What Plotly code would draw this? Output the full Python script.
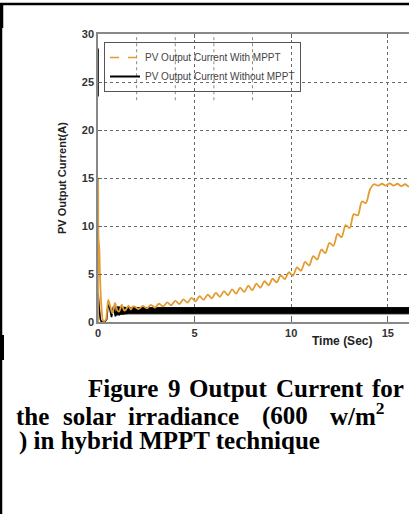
import plotly.graph_objects as go

# ---------------- data ----------------
# PV output current WITH MPPT (orange)
with_t = [0, 0.005, 0.02, 0.04, 0.07, 0.1, 0.15, 0.2, 0.25, 0.32, 0.4, 0.47, 0.53,
          0.65, 0.75, 0.88, 1.0, 1.1, 1.23, 1.35, 1.45, 1.58, 1.7, 1.8,
          1.90, 2.11, 2.32, 2.53, 2.74, 2.95, 3.16, 3.37, 3.58, 3.79, 4.00, 4.21,
          4.42, 4.63, 4.84, 5.05, 5.26, 5.47, 5.68, 5.89, 6.10, 6.31, 6.52, 6.73,
          6.94, 7.15, 7.36, 7.57, 7.78, 7.99, 8.20, 8.41, 8.62, 8.83, 9.04, 9.25,
          9.46, 9.67, 9.88, 10.09, 10.30, 10.51, 10.72, 10.93, 11.14, 11.35, 11.56,
          11.77, 11.98, 12.19, 12.40, 12.61, 12.82, 13.03, 13.24, 13.45, 13.66,
          13.87, 14.08, 14.29, 14.5, 14.7, 14.9, 15.1, 15.3, 15.5, 15.7, 15.9, 16.1, 16.3]
with_v = [0, 15.0, 9.0, 8.3, 7.5, 5.0, 2.5, 1.0, 0.2, 0.1, 0.2, 1.2, 2.3,
          1.5, 0.9, 2.0, 1.2, 1.1, 1.8, 1.2, 1.3, 1.7, 1.3, 1.6,
          1.60, 1.35, 1.68, 1.42, 1.78, 1.50, 1.90, 1.62, 2.04, 1.74, 2.20, 1.87,
          2.36, 2.01, 2.51, 2.15, 2.68, 2.31, 2.86, 2.47, 3.04, 2.62, 3.22, 2.78,
          3.40, 2.95, 3.59, 3.13, 3.78, 3.32, 4.00, 3.57, 4.25, 3.82, 4.51, 4.12,
          4.85, 4.46, 5.18, 4.82, 5.69, 5.34, 6.26, 5.88, 6.86, 6.51, 7.55,
          7.17, 8.24, 7.94, 9.17, 8.84, 10.10, 9.79, 11.24, 11.10, 12.55,
          12.40, 13.80, 14.35, 14.2, 14.4, 14.2, 14.45, 14.2, 14.4, 14.15, 14.35, 14.1, 14.3]

# PV output current WITHOUT MPPT (black): start-up transient (spike seen only near the top)
without_t = [0, 0, None, 0.003, 0.02, 0.06, 0.12, 0.18, 0.25, 0.35, 0.45, 0.52, 0.6, 0.7,
             0.8, 0.9, 1.0, 1.1, 1.2, 1.3, 1.4, 1.5]
without_v = [23.5, 28.5, None, 3.0, 1.8, 1.5, 0.3, 0.0, 0.0, 0.0, 0.3, 1.8, 1.5, 0.5,
             1.6, 0.6, 1.5, 0.7, 1.45, 0.8, 1.4, 0.9]
# fast ripple band of the current without MPPT (upper / lower envelope)
band_t = [0.9, 1.2, 1.6, 2.5, 5.0, 10.0, 16.3]
band_hi = [1.6, 1.55, 1.5, 1.5, 1.5, 1.5, 1.5]
band_lo = [0.7, 0.8, 0.85, 0.85, 0.85, 0.85, 0.85]

series_names = ["PV Output Current With MPPT", "PV Output Current Without MPPT"]
x_ticks = [0, 5, 10, 15]
y_ticks = [0, 5, 10, 15, 20, 25, 30]

ORANGE = "#E49B30"
GRID = "#6a6a6a"

# ---------------- figure ----------------
fig = go.Figure()
fig.add_trace(go.Scatter(x=band_t, y=band_lo, mode="lines", line=dict(color="black", width=1),
                         showlegend=False, hoverinfo="skip"))
fig.add_trace(go.Scatter(x=band_t, y=band_hi, mode="lines", line=dict(color="black", width=1),
                         fill="tonexty", fillcolor="black", showlegend=False, hoverinfo="skip"))
fig.add_trace(go.Scatter(x=without_t, y=without_v, mode="lines", line=dict(color="black", width=1.6),
                         showlegend=False, connectgaps=False))
fig.add_trace(go.Scatter(x=with_t, y=with_v, mode="lines",
                         line=dict(color=ORANGE, width=1.8, shape="spline", smoothing=0.8),
                         showlegend=False))
# legend entries
fig.add_trace(go.Scatter(x=[None], y=[None], mode="lines", name=series_names[0],
                         line=dict(color=ORANGE, width=1.5, dash="dash")))
fig.add_trace(go.Scatter(x=[None], y=[None], mode="lines", name=series_names[1],
                         line=dict(color="black", width=2)))

axis_font = dict(family="Liberation Sans, Arial", size=11, color="#333", weight="bold")

fig.update_xaxes(range=[0, 16.1], tickvals=x_ticks, ticktext=[str(v) for v in x_ticks],
                 ticks="inside", ticklen=4, tickcolor="#666", tickfont=axis_font,
                 showline=True, linecolor="#888", linewidth=1.5, mirror="ticks",
                 showgrid=True, gridcolor=GRID, griddash="dot", gridwidth=1, zeroline=False)
fig.update_yaxes(range=[0, 30], tickvals=y_ticks, ticktext=[str(v) for v in y_ticks],
                 ticks="inside", ticklen=4, tickcolor="#666", tickfont=axis_font,
                 showline=True, linecolor="#888", linewidth=1.5,
                 showgrid=True, gridcolor=GRID, griddash="dot", gridwidth=1, zeroline=False)

W, H = 409, 514
L, T, B = 98, 34, 192
PW, PH = W - L, H - T - B


def px(x):
    return (x - L) / PW


def py(y):
    return (H - B - y) / PH


shapes = []
# stray minor grid lines visible behind the legend
for xv in [2, 4, 6, 8]:
    shapes.append(dict(type="line", xref="x", yref="y", x0=xv, x1=xv, y0=23.1, y1=30,
                       line=dict(color="#8a8a8a", width=1, dash="dot"), layer="below"))
# page frame pieces (black border at left and top)
shapes.append(dict(type="line", xref="paper", yref="paper", x0=px(1), x1=px(1), y0=py(514), y1=py(4),
                   line=dict(color="black", width=2.5)))
shapes.append(dict(type="line", xref="paper", yref="paper", x0=px(1.5), x1=px(1.5), y0=py(28), y1=py(5),
                   line=dict(color="black", width=3.5)))
shapes.append(dict(type="line", xref="paper", yref="paper", x0=px(2), x1=px(2), y0=py(360), y1=py(335),
                   line=dict(color="black", width=4)))
shapes.append(dict(type="line", xref="paper", yref="paper", x0=px(0), x1=px(409), y0=py(4), y1=py(4),
                   line=dict(color="black", width=2.5)))

ann = []
ann.append(dict(text="<b>PV Output Current(A)</b>", x=px(62), y=py(178), xref="paper", yref="paper",
                textangle=-90, showarrow=False, xanchor="center", yanchor="middle",
                font=dict(family="Liberation Sans, Arial", size=11, color="#222")))
ann.append(dict(text="<b>Time (Sec)</b>", x=px(342), y=py(341), xref="paper", yref="paper",
                showarrow=False, xanchor="center", yanchor="middle",
                font=dict(family="Liberation Sans, Arial", size=12, color="#222")))

cap_font = dict(family="Liberation Serif, Times New Roman", size=25, color="black")
line1 = [("Figure", 87), ("9", 167), ("Output", 188), ("Current", 275), ("for", 371)]
line2 = [("the", 15), ("solar", 62), ("irradiance", 127), ("(600", 261), ("w/m<sup>2</sup>", 329)]
for word, x0 in line1:
    ann.append(dict(text="<b>" + word + "</b>", x=px(x0), y=py(403), xref="paper", yref="paper",
                    showarrow=False, xanchor="left", yanchor="bottom", font=cap_font, borderpad=0))
for word, x0 in line2:
    ann.append(dict(text="<b>" + word + "</b>", x=px(x0), y=py(431), xref="paper", yref="paper",
                    showarrow=False, xanchor="left", yanchor="bottom", font=cap_font, borderpad=0))
ann.append(dict(text="<b>) in hybrid MPPT technique</b>", x=px(18), y=py(456), xref="paper", yref="paper",
                showarrow=False, xanchor="left", yanchor="bottom", font=cap_font, borderpad=0))

fig.update_layout(
    width=W, height=H, autosize=False,
    margin=dict(l=L, r=0, t=T, b=B, pad=0),
    paper_bgcolor="white", plot_bgcolor="white",
    showlegend=True,
    legend=dict(x=px(104), y=py(42), xanchor="left", yanchor="top", traceorder="normal",
                bgcolor="rgba(255,255,255,0)", bordercolor="#555", borderwidth=1,
                font=dict(family="Liberation Sans, Arial", size=10, color="#444"),
                tracegroupgap=0),
    shapes=shapes, annotations=ann,
)

fig.write_html("out.html", config={"displayModeBar": False},
               post_script="document.body.style.margin='0';document.body.style.overflow='hidden';")
